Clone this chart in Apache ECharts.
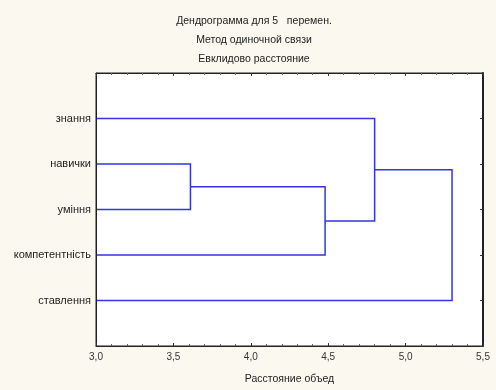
<!DOCTYPE html>
<html><head><meta charset="utf-8">
<script src="https://cdn.jsdelivr.net/npm/echarts@6/dist/echarts.min.js"></script>
<style>html,body{margin:0;padding:0;background:#fbf9ef;}#c{width:496px;height:390px;}</style>
</head><body><div id="c"></div>
<script>
// Data
var titleLines = ['Дендрограмма для 5   перемен.', 'Метод одиночной связи', 'Евклидово расстояние'];
var xAxisTitle = 'Расстояние объед';
var leaves = ['знання', 'навички', 'уміння', 'компетентність', 'ставлення'];
// merges: nodeA + nodeB joined at distance; node refs are leaf names or 'c' + merge index
var mergeA = ['навички', 'c0', 'знання', 'c2'];
var mergeB = ['уміння', 'компетентність', 'c1', 'ставлення'];
var mergeDist = [3.61, 4.48, 4.80, 5.30];
var xTicks = [3.0, 3.5, 4.0, 4.5, 5.0, 5.5];

var xMin = xTicks[0], xMax = xTicks[xTicks.length - 1];
var nodes = {};
leaves.forEach(function (n, i) { nodes[n] = [xMin, i + 1]; });
var links = [];
mergeDist.forEach(function (h, i) {
  var a = nodes[mergeA[i]], b = nodes[mergeB[i]];
  links.push({ coords: [[a[0], a[1]], [h, a[1]], [h, b[1]], [b[0], b[1]]] });
  nodes['c' + i] = [h, (a[1] + b[1]) / 2];
});

var font = 'Liberation Sans, Arial, sans-serif';
function tickCfg() { return { show: true, inside: true, length: 3, lineStyle: { color: '#333' } }; }
function minorCfg() { return { show: true, splitNumber: 5, length: 2, lineStyle: { color: '#666' } }; }
var chart = echarts.init(document.getElementById('c'));
chart.setOption({
  backgroundColor: '#fbf9ef',
  animation: false,
  graphic: titleLines.map(function (t, i) {
    return { type: 'text', x: 254, y: 21 + i * 19, style: { text: t, fill: '#222', font: '10.5px ' + font, textAlign: 'center', textVerticalAlign: 'middle' } };
  }),
  grid: { left: 96, top: 73, right: 13, bottom: 43, show: true, backgroundColor: '#ffffff', borderColor: '#222', borderWidth: 1, z: 0 },
  xAxis: [{
    type: 'value', min: xMin, max: xMax, interval: 0.5, position: 'bottom', z: 10,
    name: xAxisTitle, nameLocation: 'middle', nameGap: 28,
    nameTextStyle: { color: '#222', fontSize: 10.5, fontFamily: font },
    axisLine: { show: true, onZero: false, lineStyle: { color: '#222' } },
    axisTick: tickCfg(),
    minorTick: minorCfg(),
    axisLabel: { color: '#333', fontSize: 10, fontFamily: font, margin: 6, formatter: function (v) { return v.toFixed(1).replace('.', ','); } },
    splitLine: { show: false }
  }, {
    type: 'value', min: xMin, max: xMax, interval: 0.5, position: 'top', z: 10,
    axisLine: { show: true, onZero: false, lineStyle: { color: '#222' } },
    axisTick: tickCfg(),
    minorTick: minorCfg(),
    axisLabel: { show: false }, splitLine: { show: false }
  }],
  yAxis: [{
    type: 'value', min: 0, max: leaves.length + 1, interval: 1, inverse: true, position: 'left', z: 10,
    axisLine: { show: true, onZero: false, lineStyle: { color: '#222' } },
    axisTick: { show: false },
    axisLabel: { color: '#222', fontSize: 11, fontFamily: font, margin: 5, formatter: function (v) { return leaves[v - 1] || ''; } },
    splitLine: { show: false }
  }, {
    type: 'value', min: 0, max: leaves.length + 1, interval: 1, inverse: true, position: 'right', z: 10,
    axisLine: { show: true, onZero: false, lineStyle: { color: '#222', width: 2 } },
    axisTick: tickCfg(),
    axisLabel: { show: false }, splitLine: { show: false }
  }],
  series: [{
    type: 'lines', coordinateSystem: 'cartesian2d', polyline: true,
    xAxisIndex: 0, yAxisIndex: 0,
    lineStyle: { color: '#3434e6', width: 1.5, opacity: 1 },
    data: links
  }]
});
</script></body></html>
